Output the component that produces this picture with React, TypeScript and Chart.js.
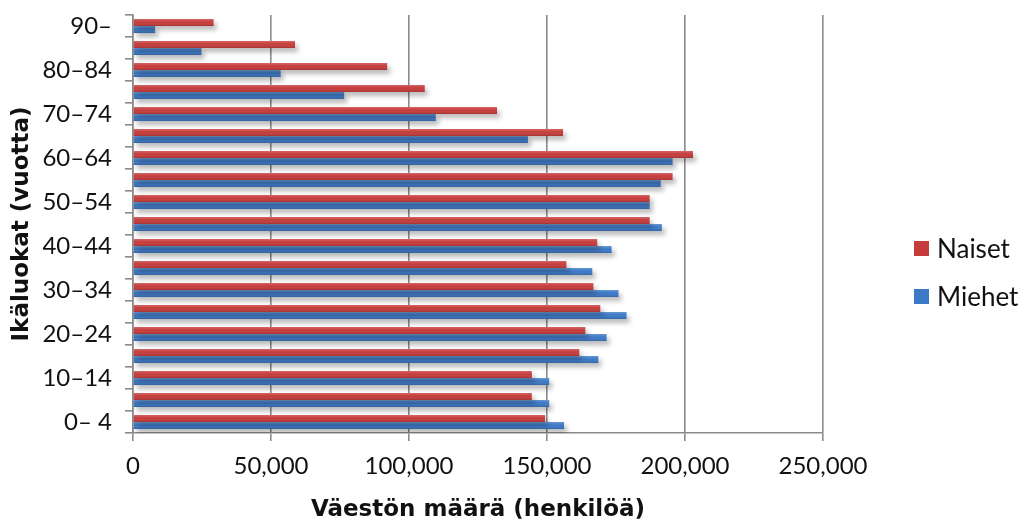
import React, { useEffect, useRef } from "react";
import { Chart, registerables } from "chart.js";

Chart.register(...registerables);

const categories = [
  "0– 4", "5–9", "10–14", "15–19", "20–24", "25–29", "30–34", "35–39", "40–44",
  "45–49", "50–54", "55–59", "60–64", "65–69", "70–74", "75–79", "80–84", "85–89", "90–",
];
const naiset = [
  149300, 144500, 144500, 161700, 163900, 169300, 166800, 157000, 168200,
  187200, 187200, 195500, 202900, 155800, 131900, 105700, 92100, 58700, 29200,
];
const miehet = [
  156200, 150800, 150800, 168600, 171600, 178800, 175900, 166400, 173400,
  191600, 187200, 191200, 195500, 143100, 109700, 76500, 53500, 24800, 8000,
];
const seriesNames = ["Naiset", "Miehet"];
const xTicks = [0, 50000, 100000, 150000, 200000, 250000];
const xTitle = "Väestön määrä (henkilöä)";
const yTitle = "Ikäluokat (vuotta)";

const RED = "#C63B3B";
const BLUE = "#3B78C6";
const GRID = "#8a8a8a";
const FONT = "Lato, 'Open Sans', sans-serif";
const TITLE_FONT = "'DejaVu Sans', sans-serif";

const barStylePlugin = {
  id: "barStyle",
  beforeDatasetsDraw(chart: any) {
    const ctx = chart.ctx;
    ctx.save();
    ctx.shadowColor = "rgba(0,0,0,0.28)";
    ctx.shadowBlur = 5;
    ctx.shadowOffsetX = 3;
    ctx.shadowOffsetY = 4;
  },
  afterDatasetsDraw(chart: any) {
    const ctx = chart.ctx;
    ctx.restore();
    ctx.save();
    chart.data.datasets.forEach((_: any, di: number) => {
      const meta = chart.getDatasetMeta(di);
      meta.data.forEach((el: any) => {
        const { x, y, base, height } = el.getProps(["x", "y", "base", "height"], true);
        const top = y - height / 2;
        const g = ctx.createLinearGradient(0, top, 0, top + height);
        g.addColorStop(0, "rgba(255,255,255,0.22)");
        g.addColorStop(0.45, "rgba(255,255,255,0.0)");
        g.addColorStop(1, "rgba(0,0,0,0.18)");
        ctx.fillStyle = g;
        ctx.fillRect(Math.min(base, x), top, Math.abs(x - base), height);
      });
    });
    ctx.restore();
  },
};

export default function App() {
  const canvasRef = useRef<HTMLCanvasElement | null>(null);

  useEffect(() => {
    document.body.style.margin = "0";
    const canvas = canvasRef.current;
    if (!canvas) return;
    const chart = new Chart(canvas, {
      type: "bar",
      data: {
        labels: categories,
        datasets: [
          { label: seriesNames[0], data: naiset, backgroundColor: RED },
          { label: seriesNames[1], data: miehet, backgroundColor: BLUE },
        ],
      },
      plugins: [barStylePlugin],
      options: {
        indexAxis: "y",
        animation: false,
        responsive: true,
        maintainAspectRatio: false,
        datasets: { bar: { categoryPercentage: 0.64, barPercentage: 1 } },
        layout: { padding: { top: 15, right: 206, left: 0, bottom: 0 } },
        plugins: { legend: { display: false }, tooltip: { enabled: false } },
        scales: {
          x: {
            type: "linear",
            min: 0,
            max: 250000,
            afterBuildTicks: (scale: any) => {
              scale.ticks = xTicks.map((v) => ({ value: v }));
            },
            afterFit: (scale: any) => {
              scale.height = 87;
              scale.paddingLeft = 0;
              scale.paddingRight = 0;
            },
            ticks: {
              color: "#111",
              font: { family: FONT, size: 24 },
              padding: 11,
              callback: (v: any) => Number(v).toLocaleString("en-US"),
            },
            grid: { color: GRID, lineWidth: 1.6, tickLength: 8, drawTicks: true },
            border: { color: GRID, width: 1.6 },
            title: {
              display: true,
              text: xTitle,
              color: "#111",
              font: { family: TITLE_FONT, size: 23, weight: "bold", lineHeight: 0.9 },
              padding: { top: 0, bottom: 0 },
            },
          },
          y: {
            type: "category",
            reverse: true,
            afterFit: (scale: any) => {
              scale.width = 133;
              scale.paddingTop = 0;
              scale.paddingBottom = 0;
            },
            ticks: {
              autoSkip: false,
              color: "#111",
              font: { family: FONT, size: 24 },
              padding: 13,
              callback: (_v: any, i: number) => (i % 2 === 0 ? categories[i] : ""),
            },
            grid: {
              offset: true,
              drawOnChartArea: false,
              drawTicks: true,
              tickLength: 8,
              color: GRID,
              lineWidth: 1.6,
            },
            border: { color: GRID, width: 1.6 },
            title: {
              display: true,
              text: yTitle,
              color: "#111",
              font: { family: TITLE_FONT, size: 23, weight: "bold" },
              padding: { top: 8, bottom: 0 },
            },
          },
        },
      },
    } as any);
    return () => chart.destroy();
  }, []);

  const legendRow = (name: string, color: string, center: number) => (
    <div
      key={name}
      style={{
        position: "absolute",
        left: 914,
        top: center - 15,
        height: 30,
        display: "flex",
        alignItems: "center",
        fontFamily: FONT,
        fontSize: 26,
        color: "#111",
        whiteSpace: "nowrap",
      }}
    >
      <span
        style={{
          display: "inline-block",
          width: 15,
          height: 15,
          marginRight: 8,
          background: `linear-gradient(${color}dd, ${color})`,
          backgroundColor: color,
        }}
      />
      <span>{name}</span>
    </div>
  );

  return (
    <div style={{ position: "relative", width: 1029, height: 520, background: "#fff", overflow: "hidden" }}>
      <canvas ref={canvasRef} width={1029} height={520} />
      {legendRow(seriesNames[0], RED, 248)}
      {legendRow(seriesNames[1], BLUE, 296)}
    </div>
  );
}
